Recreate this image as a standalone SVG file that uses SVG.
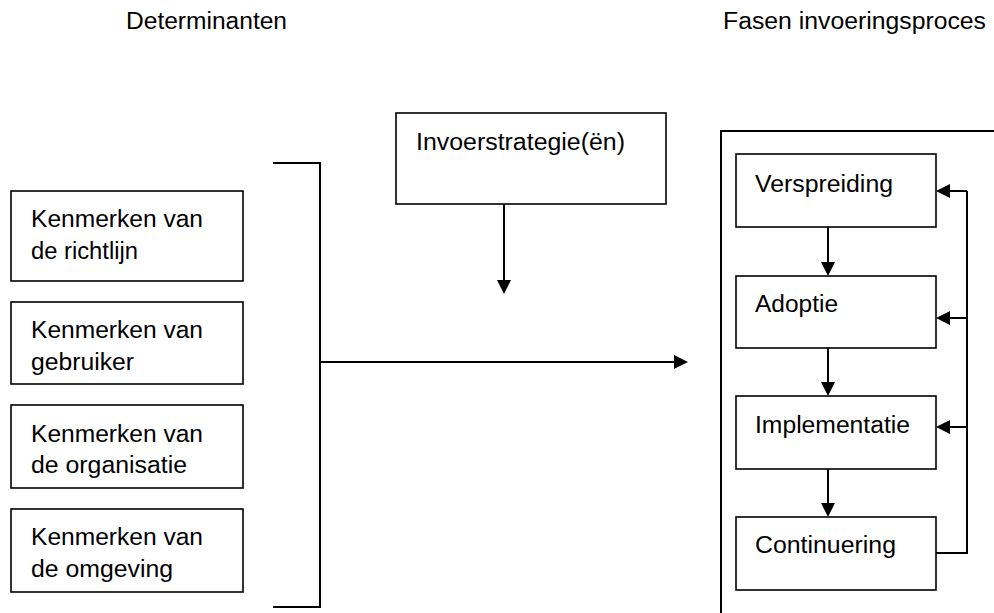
<svg xmlns="http://www.w3.org/2000/svg" width="994" height="613" viewBox="0 0 994 613">
<style>
  text { font-family: "Liberation Sans", Arial, sans-serif; font-size: 23.5px; fill: #000; }
  .box { fill: #fff; stroke: #000; stroke-width: 1.6; }
  .ln { fill: none; stroke: #000; stroke-width: 2; }
</style>
<defs>
  <marker id="ah" markerUnits="userSpaceOnUse" markerWidth="14" markerHeight="14" refX="7" refY="7" orient="auto">
    <path d="M0,0 L14,7 L0,14 z" fill="#000"/>
  </marker>
</defs>
<rect width="994" height="613" fill="#fff"/>

<g id="headers">
  <text x="126" y="29" textLength="161" lengthAdjust="spacingAndGlyphs">Determinanten</text>
  <text x="723" y="29" textLength="263" lengthAdjust="spacingAndGlyphs">Fasen invoeringsproces</text>
</g>

<g id="frame">
  <path class="ln" d="M721,613 V131 H994" stroke-width="1.6"/>
</g>

<g id="det1">
  <rect class="box" x="11" y="191" width="232" height="90"/>
  <text x="31" y="227" textLength="172" lengthAdjust="spacingAndGlyphs">Kenmerken van</text>
  <text x="31" y="259" textLength="107" lengthAdjust="spacingAndGlyphs">de richtlijn</text>
</g>
<g id="det2">
  <rect class="box" x="11" y="302" width="232" height="82"/>
  <text x="31" y="338" textLength="172" lengthAdjust="spacingAndGlyphs">Kenmerken van</text>
  <text x="31" y="370" textLength="103" lengthAdjust="spacingAndGlyphs">gebruiker</text>
</g>
<g id="det3">
  <rect class="box" x="11" y="405" width="232" height="83"/>
  <text x="31" y="442" textLength="172" lengthAdjust="spacingAndGlyphs">Kenmerken van</text>
  <text x="31" y="473" textLength="156" lengthAdjust="spacingAndGlyphs">de organisatie</text>
</g>
<g id="det4">
  <rect class="box" x="11" y="509" width="232" height="83"/>
  <text x="31" y="545" textLength="172" lengthAdjust="spacingAndGlyphs">Kenmerken van</text>
  <text x="31" y="577" textLength="142" lengthAdjust="spacingAndGlyphs">de omgeving</text>
</g>

<g id="invoer">
  <rect class="box" x="396" y="113" width="270" height="91"/>
  <text x="416" y="150" textLength="209" lengthAdjust="spacingAndGlyphs">Invoerstrategie(ën)</text>
</g>

<g id="verspreiding">
  <rect class="box" x="736" y="154" width="200" height="73"/>
  <text x="755" y="192" textLength="138" lengthAdjust="spacingAndGlyphs">Verspreiding</text>
</g>
<g id="adoptie">
  <rect class="box" x="736" y="276" width="200" height="72"/>
  <text x="755" y="312" textLength="83" lengthAdjust="spacingAndGlyphs">Adoptie</text>
</g>
<g id="implementatie">
  <rect class="box" x="736" y="396" width="200" height="73"/>
  <text x="755" y="433" textLength="155" lengthAdjust="spacingAndGlyphs">Implementatie</text>
</g>
<g id="continuering">
  <rect class="box" x="736" y="517" width="200" height="73"/>
  <text x="755" y="553" textLength="141" lengthAdjust="spacingAndGlyphs">Continuering</text>
</g>

<g id="connectors">
  <path class="ln" d="M273,163 H320 V607 H273"/>
  <path class="ln" d="M320,362 H681" marker-end="url(#ah)"/>
  <path class="ln" d="M504,204 V287" marker-end="url(#ah)"/>
  <path class="ln" d="M828,227 V269" marker-end="url(#ah)"/>
  <path class="ln" d="M828,348 V389" marker-end="url(#ah)"/>
  <path class="ln" d="M828,469 V510" marker-end="url(#ah)"/>
  <path class="ln" d="M936,553 H967 V191"/>
  <path class="ln" d="M967,191 H943" marker-end="url(#ah)"/>
  <path class="ln" d="M967,318 H943" marker-end="url(#ah)"/>
  <path class="ln" d="M967,427 H943" marker-end="url(#ah)"/>
</g>
</svg>
